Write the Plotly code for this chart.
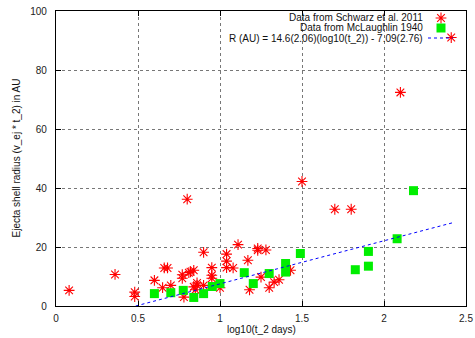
import plotly.graph_objects as go

# Schwarz et al. 2011 data: log10(t_2 days), ejecta shell radius (AU)
schwarz_logt2 = [0.08, 0.36, 0.48, 0.48, 0.60, 0.65, 0.66, 0.68, 0.70, 0.77,
                 0.77, 0.78, 0.80, 0.82, 0.84, 0.84, 0.85, 0.86, 0.90, 0.90,
                 0.95, 0.95, 0.95, 1.00, 1.04, 1.04, 1.04, 1.08, 1.11, 1.17,
                 1.18, 1.23, 1.23, 1.28, 1.25, 1.30, 1.33, 1.36, 1.43, 1.50,
                 1.70, 1.80, 2.10, 2.41, 0.81, 0.86]
schwarz_radius = [5.3, 10.7, 4.7, 3.2, 8.7, 6.2, 12.9, 12.9, 7.0, 10.6,
                  9.4, 3.0, 36.2, 11.6, 12.1, 6.5, 5.5, 7.0, 18.2, 7.0,
                  13.0, 9.4, 10.4, 6.2, 17.6, 15.2, 13.0, 12.9, 20.8, 15.5,
                  5.5, 19.5, 18.9, 19.0, 9.8, 6.2, 8.1, 8.9, 12.1, 42.2,
                  32.8, 32.8, 72.4, 91.0, 11.3, 7.8]

# McLaughlin 1940 data
mclaughlin_logt2 = [0.60, 0.70, 0.776, 0.84, 0.90, 0.953, 1.00, 1.148, 1.203,
                    1.30, 1.40, 1.40, 1.49, 1.825, 1.905, 1.905, 2.08, 2.18]
mclaughlin_radius = [4.2, 4.5, 5.3, 2.9, 4.2, 6.6, 7.6, 11.3, 7.6,
                     11.0, 14.4, 11.5, 17.8, 12.3, 18.5, 13.5, 22.8, 39.1]

# Linear fit R = a*log10(t_2) + b
fit_slope = 14.6
fit_intercept = -7.09
fit_x_range = [0.486, 2.42]
fit_y = [fit_slope * x + fit_intercept for x in fit_x_range]

legend_labels = ["Data from Schwarz et al. 2011",
                 "Data from McLaughlin 1940",
                 "R (AU) = 14.6(2.06)(log10(t_2)) - 7.09(2.76)"]

x_ticks = [0, 0.5, 1, 1.5, 2, 2.5]
y_ticks = [0, 20, 40, 60, 80, 100]

FONT = "Liberation Sans, Arial, Helvetica, sans-serif"
RED = "#ff0000"
GREEN = "#00ee00"
BLUE = "#0000ff"

fig = go.Figure()

fig.add_trace(go.Scatter(
    x=schwarz_logt2, y=schwarz_radius, mode="markers",
    marker=dict(symbol="asterisk-open", size=9, color=RED,
                line=dict(color=RED, width=1.1)),
    showlegend=False))

fig.add_trace(go.Scatter(
    x=mclaughlin_logt2, y=mclaughlin_radius, mode="markers",
    marker=dict(symbol="square", size=9, color=GREEN, line=dict(width=0)),
    showlegend=False))

fig.add_trace(go.Scatter(
    x=fit_x_range, y=fit_y, mode="lines",
    line=dict(color=BLUE, width=1, dash="dot"), showlegend=False))

# custom gnuplot-style key (text right aligned, sample on the right)
L, R, T, B = 56, 9, 11, 32
W = 475 - L - R
H = 338 - T - B

def px_x(px):
    return (px - L) / W

def px_y(py):
    return (338 - B - py) / H

rows_py = [18, 28, 38]
text_right = 425
for lab, py in zip(legend_labels, rows_py):
    fig.add_annotation(x=px_x(text_right), y=px_y(py), xref="paper", yref="paper",
                       text=lab, showarrow=False, xanchor="right", yanchor="middle",
                       font=dict(family=FONT, size=10, color="#111"))

fig.add_trace(go.Scatter(
    x=[px_x(441)], y=[px_y(rows_py[0])], xaxis="x2", yaxis="y2", mode="markers",
    marker=dict(symbol="asterisk-open", size=9, color=RED, line=dict(color=RED, width=1.1)),
    showlegend=False, hoverinfo="skip"))
fig.add_trace(go.Scatter(
    x=[px_x(441)], y=[px_y(rows_py[1])], xaxis="x2", yaxis="y2", mode="markers",
    marker=dict(symbol="square", size=9, color=GREEN, line=dict(width=0)),
    showlegend=False, hoverinfo="skip"))
fig.add_trace(go.Scatter(
    x=[px_x(428), px_x(453)], y=[px_y(rows_py[2])] * 2, xaxis="x2", yaxis="y2",
    mode="lines", line=dict(color=BLUE, width=1, dash="dot"),
    showlegend=False, hoverinfo="skip"))

axis_common = dict(
    showline=True, linecolor="black", linewidth=1.2, mirror="allticks",
    ticks="inside", ticklen=5, tickcolor="black", tickwidth=1,
    showgrid=True, gridcolor="#777777", griddash="dot", gridwidth=1,
    zeroline=False, tickfont=dict(family=FONT, size=10, color="#222"),
)

fig.update_layout(
    width=475, height=338,
    margin=dict(l=L, r=R, t=T, b=B, autoexpand=False),
    paper_bgcolor="white", plot_bgcolor="white",
    xaxis=dict(range=[0, 2.5], tickvals=x_ticks, ticktext=[f"{v:g}" for v in x_ticks],
               ticklabelstandoff=3, **axis_common),
    yaxis=dict(range=[0, 100], tickvals=y_ticks, ticktext=[str(v) for v in y_ticks],
               ticklabelstandoff=6, **axis_common),
    xaxis2=dict(overlaying="x", range=[0, 1], visible=False, fixedrange=True),
    yaxis2=dict(overlaying="y", range=[0, 1], visible=False, fixedrange=True),
    showlegend=False,
)

fig.add_annotation(x=0.5, y=px_y(329), xref="paper", yref="paper",
                   text="log10(t_2 days)", showarrow=False, yanchor="middle",
                   font=dict(family=FONT, size=10, color="#111"))
fig.add_annotation(x=px_x(16), y=0.5, xref="paper", yref="paper",
                   text="Ejecta shell radius (v_ej * t_2) in AU", showarrow=False,
                   textangle=-90, xanchor="center", yanchor="middle",
                   font=dict(family=FONT, size=10, color="#111"))

fig.write_html("out.html", config={"displayModeBar": False})

# remove default page margin so the figure fills the window exactly
with open("out.html", "r", encoding="utf-8") as f:
    html = f.read()
html = html.replace("<body>", '<body style="margin:0;padding:0;overflow:hidden">', 1)
with open("out.html", "w", encoding="utf-8") as f:
    f.write(html)
